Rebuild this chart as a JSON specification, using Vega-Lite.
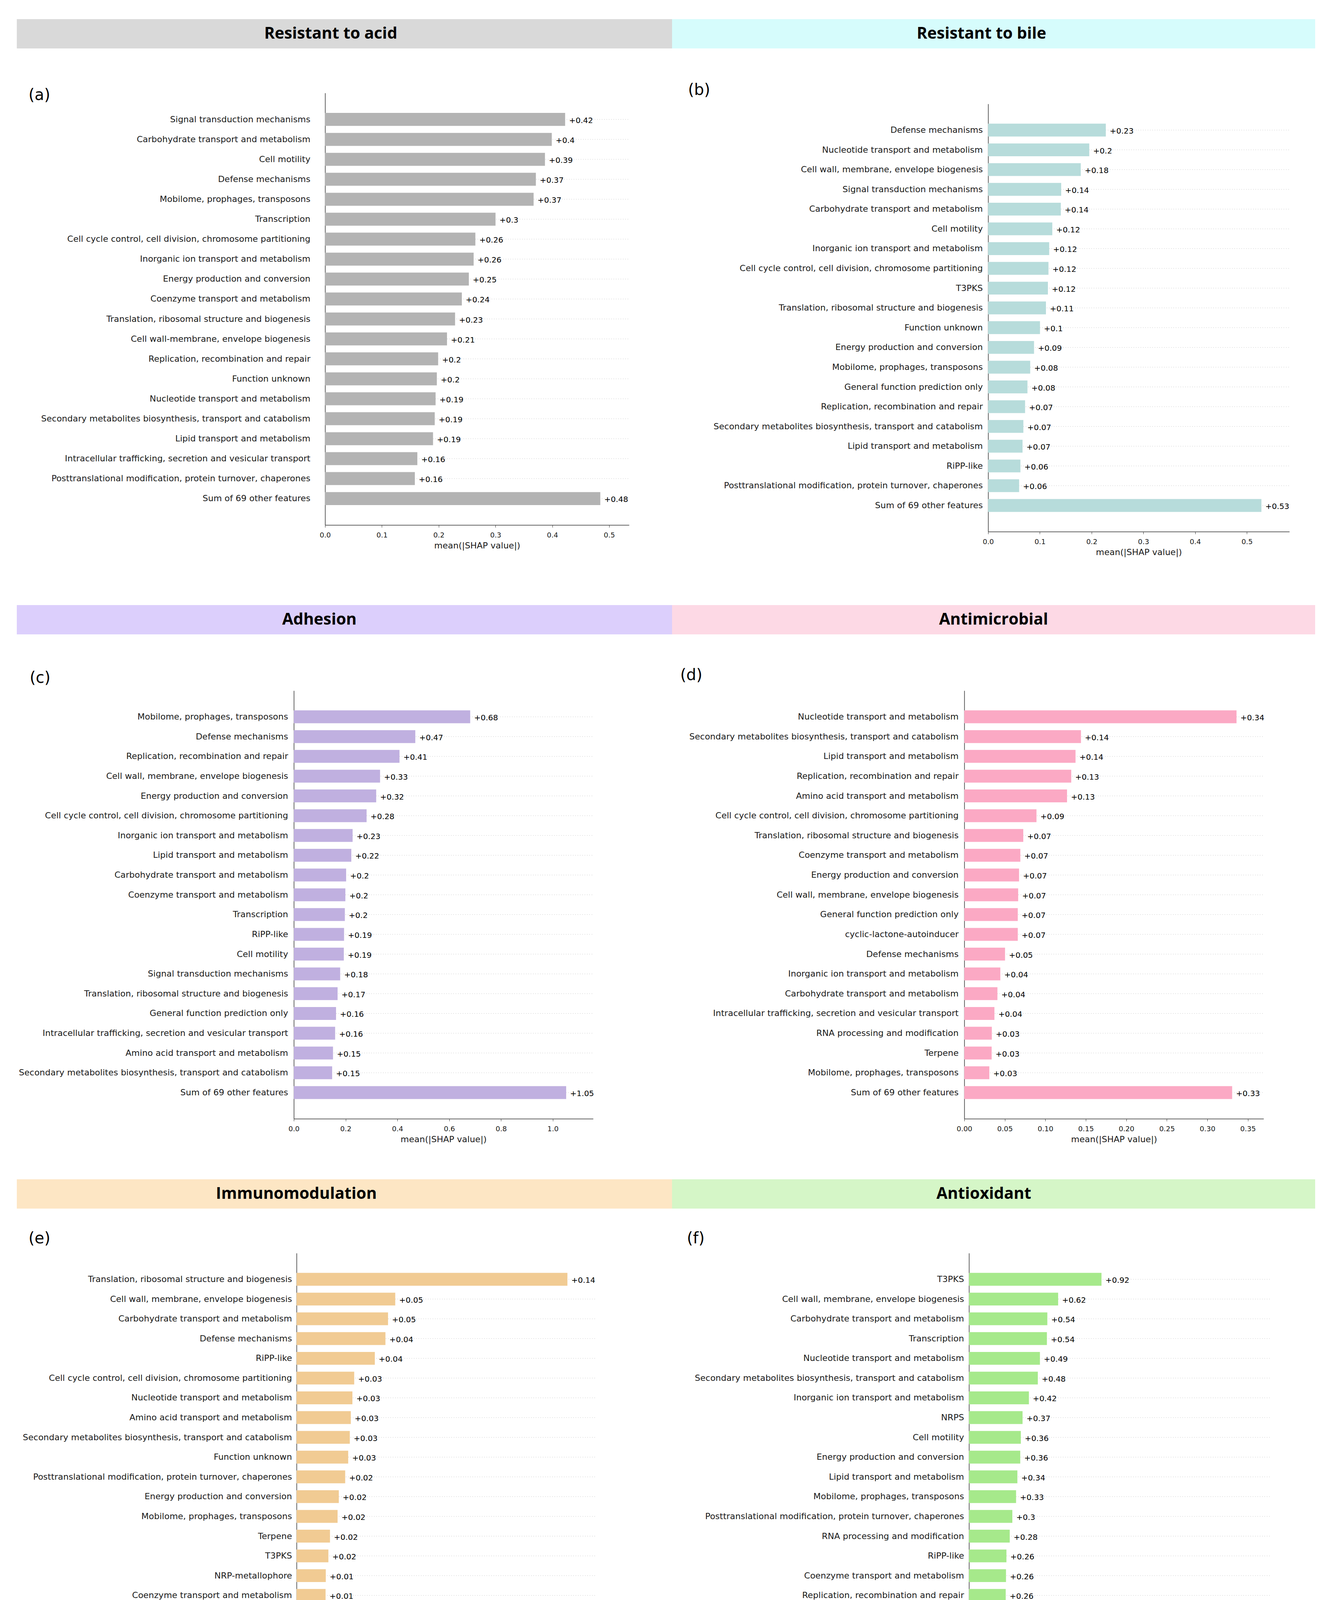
{
  "$schema": "https://vega.github.io/schema/vega-lite/v6.json",
  "background": "white",
  "padding": {"left": 43, "top": 49, "right": 0, "bottom": 0},
  "config": {
    "font": "DejaVu Sans",
    "view": {"stroke": null},
    "title": {"font": "DejaVu Sans", "fontSize": 40, "fontWeight": "normal", "color": "#000000"},
    "axis": {"labelFont": "DejaVu Sans", "titleFont": "DejaVu Sans", "labelColor": "#1a1a1a", "titleColor": "#1a1a1a", "domainColor": "#333333", "tickColor": "#333333", "domainWidth": 1.5, "titleFontWeight": "normal"},
    "axisY": {"ticks": false, "labelFontSize": 22, "labelLimit": 0, "grid": false, "bandPosition": 0.5},
    "axisX": {"grid": false, "labelFontSize": 18, "titleFontSize": 22, "tickSize": 6, "labelPadding": 11, "titlePadding": 7, "labelFlush": false},
    "text": {"font": "DejaVu Sans", "color": "#000000"},
    "rule": {"color": "#c8c8c8", "strokeDash": [2, 4], "strokeWidth": 1}
  },
  "datasets": {
    "a": [
      {"f": "Signal transduction mechanisms", "v": 0.4225, "t": "+0.42"},
      {"f": "Carbohydrate transport and metabolism", "v": 0.399, "t": "+0.4"},
      {"f": "Cell motility", "v": 0.387, "t": "+0.39"},
      {"f": "Defense mechanisms", "v": 0.371, "t": "+0.37"},
      {"f": "Mobilome, prophages, transposons", "v": 0.367, "t": "+0.37"},
      {"f": "Transcription", "v": 0.3, "t": "+0.3"},
      {"f": "Cell cycle control, cell division, chromosome partitioning", "v": 0.2645, "t": "+0.26"},
      {"f": "Inorganic ion transport and metabolism", "v": 0.2615, "t": "+0.26"},
      {"f": "Energy production and conversion", "v": 0.253, "t": "+0.25"},
      {"f": "Coenzyme transport and metabolism", "v": 0.2407, "t": "+0.24"},
      {"f": "Translation, ribosomal structure and biogenesis", "v": 0.2288, "t": "+0.23"},
      {"f": "Cell wall-membrane, envelope biogenesis", "v": 0.2146, "t": "+0.21"},
      {"f": "Replication, recombination and repair", "v": 0.199, "t": "+0.2"},
      {"f": "Function unknown", "v": 0.1967, "t": "+0.2"},
      {"f": "Nucleotide transport and metabolism", "v": 0.1945, "t": "+0.19"},
      {"f": "Secondary metabolites biosynthesis, transport and catabolism", "v": 0.193, "t": "+0.19"},
      {"f": "Lipid transport and metabolism", "v": 0.19, "t": "+0.19"},
      {"f": "Intracellular trafficking, secretion and vesicular transport", "v": 0.1624, "t": "+0.16"},
      {"f": "Posttranslational modification, protein turnover, chaperones", "v": 0.158, "t": "+0.16"},
      {"f": "Sum of 69 other features", "v": 0.4844, "t": "+0.48"}
    ],
    "b": [
      {"f": "Defense mechanisms", "v": 0.2274, "t": "+0.23"},
      {"f": "Nucleotide transport and metabolism", "v": 0.1954, "t": "+0.2"},
      {"f": "Cell wall, membrane, envelope biogenesis", "v": 0.179, "t": "+0.18"},
      {"f": "Signal transduction mechanisms", "v": 0.1412, "t": "+0.14"},
      {"f": "Carbohydrate transport and metabolism", "v": 0.1404, "t": "+0.14"},
      {"f": "Cell motility", "v": 0.124, "t": "+0.12"},
      {"f": "Inorganic ion transport and metabolism", "v": 0.118, "t": "+0.12"},
      {"f": "Cell cycle control, cell division, chromosome partitioning", "v": 0.1166, "t": "+0.12"},
      {"f": "T3PKS", "v": 0.1155, "t": "+0.12"},
      {"f": "Translation, ribosomal structure and biogenesis", "v": 0.1117, "t": "+0.11"},
      {"f": "Function unknown", "v": 0.1002, "t": "+0.1"},
      {"f": "Energy production and conversion", "v": 0.0887, "t": "+0.09"},
      {"f": "Mobilome, prophages, transposons", "v": 0.0813, "t": "+0.08"},
      {"f": "General function prediction only", "v": 0.076, "t": "+0.08"},
      {"f": "Replication, recombination and repair", "v": 0.0714, "t": "+0.07"},
      {"f": "Secondary metabolites biosynthesis, transport and catabolism", "v": 0.0681, "t": "+0.07"},
      {"f": "Lipid transport and metabolism", "v": 0.0665, "t": "+0.07"},
      {"f": "RiPP-like", "v": 0.0624, "t": "+0.06"},
      {"f": "Posttranslational modification, protein turnover, chaperones", "v": 0.0599, "t": "+0.06"},
      {"f": "Sum of 69 other features", "v": 0.528, "t": "+0.53"}
    ],
    "c": [
      {"f": "Mobilome, prophages, transposons", "v": 0.681, "t": "+0.68"},
      {"f": "Defense mechanisms", "v": 0.469, "t": "+0.47"},
      {"f": "Replication, recombination and repair", "v": 0.408, "t": "+0.41"},
      {"f": "Cell wall, membrane, envelope biogenesis", "v": 0.333, "t": "+0.33"},
      {"f": "Energy production and conversion", "v": 0.318, "t": "+0.32"},
      {"f": "Cell cycle control, cell division, chromosome partitioning", "v": 0.281, "t": "+0.28"},
      {"f": "Inorganic ion transport and metabolism", "v": 0.227, "t": "+0.23"},
      {"f": "Lipid transport and metabolism", "v": 0.222, "t": "+0.22"},
      {"f": "Carbohydrate transport and metabolism", "v": 0.202, "t": "+0.2"},
      {"f": "Coenzyme transport and metabolism", "v": 0.199, "t": "+0.2"},
      {"f": "Transcription", "v": 0.197, "t": "+0.2"},
      {"f": "RiPP-like", "v": 0.194, "t": "+0.19"},
      {"f": "Cell motility", "v": 0.193, "t": "+0.19"},
      {"f": "Signal transduction mechanisms", "v": 0.179, "t": "+0.18"},
      {"f": "Translation, ribosomal structure and biogenesis", "v": 0.169, "t": "+0.17"},
      {"f": "General function prediction only", "v": 0.163, "t": "+0.16"},
      {"f": "Intracellular trafficking, secretion and vesicular transport", "v": 0.1595, "t": "+0.16"},
      {"f": "Amino acid transport and metabolism", "v": 0.1513, "t": "+0.15"},
      {"f": "Secondary metabolites biosynthesis, transport and catabolism", "v": 0.148, "t": "+0.15"},
      {"f": "Sum of 69 other features", "v": 1.0515, "t": "+1.05"}
    ],
    "d": [
      {"f": "Nucleotide transport and metabolism", "v": 0.336, "t": "+0.34"},
      {"f": "Secondary metabolites biosynthesis, transport and catabolism", "v": 0.144, "t": "+0.14"},
      {"f": "Lipid transport and metabolism", "v": 0.1373, "t": "+0.14"},
      {"f": "Replication, recombination and repair", "v": 0.132, "t": "+0.13"},
      {"f": "Amino acid transport and metabolism", "v": 0.1268, "t": "+0.13"},
      {"f": "Cell cycle control, cell division, chromosome partitioning", "v": 0.0891, "t": "+0.09"},
      {"f": "Translation, ribosomal structure and biogenesis", "v": 0.0728, "t": "+0.07"},
      {"f": "Coenzyme transport and metabolism", "v": 0.0692, "t": "+0.07"},
      {"f": "Energy production and conversion", "v": 0.0676, "t": "+0.07"},
      {"f": "Cell wall, membrane, envelope biogenesis", "v": 0.0665, "t": "+0.07"},
      {"f": "General function prediction only", "v": 0.066, "t": "+0.07"},
      {"f": "cyclic-lactone-autoinducer", "v": 0.066, "t": "+0.07"},
      {"f": "Defense mechanisms", "v": 0.0503, "t": "+0.05"},
      {"f": "Inorganic ion transport and metabolism", "v": 0.0445, "t": "+0.04"},
      {"f": "Carbohydrate transport and metabolism", "v": 0.0409, "t": "+0.04"},
      {"f": "Intracellular trafficking, secretion and vesicular transport", "v": 0.0372, "t": "+0.04"},
      {"f": "RNA processing and modification", "v": 0.034, "t": "+0.03"},
      {"f": "Terpene", "v": 0.0338, "t": "+0.03"},
      {"f": "Mobilome, prophages, transposons", "v": 0.0309, "t": "+0.03"},
      {"f": "Sum of 69 other features", "v": 0.3306, "t": "+0.33"}
    ],
    "e": [
      {"f": "Translation, ribosomal structure and biogenesis", "v": 0.1353, "t": "+0.14"},
      {"f": "Cell wall, membrane, envelope biogenesis", "v": 0.0493, "t": "+0.05"},
      {"f": "Carbohydrate transport and metabolism", "v": 0.0457, "t": "+0.05"},
      {"f": "Defense mechanisms", "v": 0.0444, "t": "+0.04"},
      {"f": "RiPP-like", "v": 0.0391, "t": "+0.04"},
      {"f": "Cell cycle control, cell division, chromosome partitioning", "v": 0.0288, "t": "+0.03"},
      {"f": "Nucleotide transport and metabolism", "v": 0.0279, "t": "+0.03"},
      {"f": "Amino acid transport and metabolism", "v": 0.0271, "t": "+0.03"},
      {"f": "Secondary metabolites biosynthesis, transport and catabolism", "v": 0.0266, "t": "+0.03"},
      {"f": "Function unknown", "v": 0.0258, "t": "+0.03"},
      {"f": "Posttranslational modification, protein turnover, chaperones", "v": 0.0243, "t": "+0.02"},
      {"f": "Energy production and conversion", "v": 0.0211, "t": "+0.02"},
      {"f": "Mobilome, prophages, transposons", "v": 0.0205, "t": "+0.02"},
      {"f": "Terpene", "v": 0.0167, "t": "+0.02"},
      {"f": "T3PKS", "v": 0.0159, "t": "+0.02"},
      {"f": "NRP-metallophore", "v": 0.0146, "t": "+0.01"},
      {"f": "Coenzyme transport and metabolism", "v": 0.0145, "t": "+0.01"},
      {"f": "Signal transduction mechanisms", "v": 0.0144, "t": "+0.01"},
      {"f": "NRPS-like", "v": 0.0114, "t": "+0.01"},
      {"f": "Sum of 69 other features", "v": 0.1121, "t": "+0.11"}
    ],
    "f": [
      {"f": "T3PKS", "v": 0.92, "t": "+0.92"},
      {"f": "Cell wall, membrane, envelope biogenesis", "v": 0.619, "t": "+0.62"},
      {"f": "Carbohydrate transport and metabolism", "v": 0.544, "t": "+0.54"},
      {"f": "Transcription", "v": 0.541, "t": "+0.54"},
      {"f": "Nucleotide transport and metabolism", "v": 0.4926, "t": "+0.49"},
      {"f": "Secondary metabolites biosynthesis, transport and catabolism", "v": 0.478, "t": "+0.48"},
      {"f": "Inorganic ion transport and metabolism", "v": 0.416, "t": "+0.42"},
      {"f": "NRPS", "v": 0.372, "t": "+0.37"},
      {"f": "Cell motility", "v": 0.36, "t": "+0.36"},
      {"f": "Energy production and conversion", "v": 0.356, "t": "+0.36"},
      {"f": "Lipid transport and metabolism", "v": 0.336, "t": "+0.34"},
      {"f": "Mobilome, prophages, transposons", "v": 0.327, "t": "+0.33"},
      {"f": "Posttranslational modification, protein turnover, chaperones", "v": 0.301, "t": "+0.3"},
      {"f": "RNA processing and modification", "v": 0.283, "t": "+0.28"},
      {"f": "RiPP-like", "v": 0.26, "t": "+0.26"},
      {"f": "Coenzyme transport and metabolism", "v": 0.257, "t": "+0.26"},
      {"f": "Replication, recombination and repair", "v": 0.255, "t": "+0.26"},
      {"f": "General function prediction only", "v": 0.242, "t": "+0.24"},
      {"f": "Signal transduction mechanisms", "v": 0.221, "t": "+0.22"},
      {"f": "Sum of 69 other features", "v": 1.893, "t": "+1.89"}
    ],
    "g": [
      {"f": "Lipid transport and metabolism", "v": 1.1415, "t": "+1.14"},
      {"f": "Cell wall, membrane, envelope biogenesis", "v": 0.679, "t": "+0.68"},
      {"f": "Posttranslational modification, protein turnover, chaperones", "v": 0.53, "t": "+0.53"},
      {"f": "Translation, ribosomal structure and biogenesis", "v": 0.527, "t": "+0.53"},
      {"f": "Transcription", "v": 0.526, "t": "+0.53"},
      {"f": "Inorganic ion transport and metabolism", "v": 0.491, "t": "+0.49"},
      {"f": "Mobilome, prophages, transposons", "v": 0.4467, "t": "+0.45"},
      {"f": "Coenzyme transport and metabolism", "v": 0.443, "t": "+0.44"},
      {"f": "Cell cycle control, cell division, chromosome partitioning", "v": 0.434, "t": "+0.43"},
      {"f": "Defense mechanisms", "v": 0.372, "t": "+0.37"},
      {"f": "Energy production and conversion", "v": 0.36, "t": "+0.36"},
      {"f": "Nucleotide transport and metabolism", "v": 0.3545, "t": "+0.35"},
      {"f": "Replication, recombination and repair", "v": 0.34, "t": "+0.34"},
      {"f": "Carbohydrate transport and metabolism", "v": 0.337, "t": "+0.34"},
      {"f": "Cell motility", "v": 0.3155, "t": "+0.32"},
      {"f": "Intracellular trafficking, secretion and vesicular transport", "v": 0.287, "t": "+0.29"},
      {"f": "Signal transduction mechanisms", "v": 0.276, "t": "+0.28"},
      {"f": "Amino acid transport and metabolism", "v": 0.2606, "t": "+0.26"},
      {"f": "General function prediction only", "v": 0.2127, "t": "+0.21"},
      {"f": "Sum of 69 other features", "v": 0.7976, "t": "+0.8"}
    ]
  },
  "spacing": 87,
  "vconcat": [
    {
      "spacing": 0,
      "hconcat": [
        {
          "width": 1677, "height": 75,
          "view": {"fill": "#d9d9d9", "stroke": null},
          "data": {"values": [{"name": "Resistant to acid"}]},
          "mark": {"type": "text", "font": "Open Sans", "fontWeight": "bold", "fontSize": 41, "baseline": "middle", "dx": -35},
          "encoding": {"text": {"field": "name"}}
        },
        {
          "width": 1646, "height": 75,
          "view": {"fill": "#d6fcfc", "stroke": null},
          "data": {"values": [{"name": "Resistant to bile"}]},
          "mark": {"type": "text", "font": "Open Sans", "fontWeight": "bold", "fontSize": 41, "baseline": "middle", "dx": -31},
          "encoding": {"text": {"field": "name"}}
        }
      ]
    },
    {
      "spacing": 125,
      "vconcat": [
        {
          "spacing": 110,
          "hconcat": [
            {
              "width": 1567, "height": 1106,
              "data": {"name": "a"},
              "title": {"text": "(a)", "anchor": "start", "frame": "group", "dx": 30, "offset": -26},
              "encoding": {
                "y": {"field": "f", "type": "nominal", "sort": null, "title": null, "scale": {"paddingInner": 0.35, "paddingOuter": 1}, "axis": {"offset": -789, "labelPadding": 38}},
                "x": {"field": "v", "type": "quantitative", "title": "mean(|SHAP value|)", "scale": {"domain": [0, 0.535], "nice": false, "range": [789, 1567]}, "axis": {"values": [0, 0.1, 0.2, 0.3, 0.4, 0.5], "format": ".1f"}}
              },
              "layer": [
                {"mark": "rule", "encoding": {"x": {"datum": 0}, "x2": {"datum": 0.535}}},
                {"mark": {"type": "bar", "color": "#b3b3b3"}},
                {"mark": {"type": "text", "align": "left", "baseline": "middle", "dx": 10, "dy": 3, "fontSize": 20}, "encoding": {"text": {"field": "t"}}}
              ]
            },
            {
              "width": 1579, "height": 1123,
              "data": {"name": "b"},
              "title": {"text": "(b)", "anchor": "start", "frame": "group", "dx": 40, "offset": -13},
              "encoding": {
                "y": {"field": "f", "type": "nominal", "sort": null, "title": null, "scale": {"paddingInner": 0.35, "paddingOuter": 1, "range": [28, 1123]}, "axis": {"offset": -808, "labelPadding": 14}},
                "x": {"field": "v", "type": "quantitative", "title": "mean(|SHAP value|)", "scale": {"domain": [0, 0.582], "nice": false, "range": [808, 1579]}, "axis": {"values": [0, 0.1, 0.2, 0.3, 0.4, 0.5], "format": ".1f"}}
              },
              "layer": [
                {"mark": "rule", "encoding": {"x": {"datum": 0}, "x2": {"datum": 0.582}}},
                {"mark": {"type": "bar", "color": "#b7dcdb"}},
                {"mark": {"type": "text", "align": "left", "baseline": "middle", "dx": 10, "dy": 3, "fontSize": 20}, "encoding": {"text": {"field": "t"}}}
              ]
            }
          ]
        },
        {
          "spacing": 85,
          "vconcat": [
            {
              "spacing": 0,
              "hconcat": [
                {
                  "width": 1677, "height": 75,
                  "view": {"fill": "#dccffc", "stroke": null},
                  "data": {"values": [{"name": "Adhesion"}]},
                  "mark": {"type": "text", "font": "Open Sans", "fontWeight": "bold", "fontSize": 41, "baseline": "middle", "dx": -64},
                  "encoding": {"text": {"field": "name"}}
                },
                {
                  "width": 1646, "height": 75,
                  "view": {"fill": "#fdd9e5", "stroke": null},
                  "data": {"values": [{"name": "Antimicrobial"}]},
                  "mark": {"type": "text", "font": "Open Sans", "fontWeight": "bold", "fontSize": 41, "baseline": "middle", "dx": 0},
                  "encoding": {"text": {"field": "name"}}
                }
              ]
            },
            {
              "spacing": 92,
              "vconcat": [
                {
                  "spacing": 202,
                  "hconcat": [
                    {
                      "width": 1475, "height": 1096,
                      "data": {"name": "c"},
                      "title": {"text": "(c)", "anchor": "start", "frame": "group", "dx": 33, "offset": 12},
                      "encoding": {
                        "y": {"field": "f", "type": "nominal", "sort": null, "title": null, "scale": {"paddingInner": 0.35, "paddingOuter": 1}, "axis": {"offset": -709, "labelPadding": 15}},
                        "x": {"field": "v", "type": "quantitative", "title": "mean(|SHAP value|)", "scale": {"domain": [0, 1.1555], "nice": false, "range": [709, 1475]}, "axis": {"values": [0, 0.2, 0.4, 0.6, 0.8, 1.0], "format": ".1f"}}
                      },
                      "layer": [
                        {"mark": "rule", "encoding": {"x": {"datum": 0}, "x2": {"datum": 1.1555}}},
                        {"mark": {"type": "bar", "color": "#c0b0e0"}},
                        {"mark": {"type": "text", "align": "left", "baseline": "middle", "dx": 10, "dy": 3, "fontSize": 20}, "encoding": {"text": {"field": "t"}}}
                      ]
                    },
                    {
                      "width": 1511, "height": 1096,
                      "data": {"name": "d"},
                      "title": {"text": "(d)", "anchor": "start", "frame": "group", "dx": 18, "offset": 19},
                      "encoding": {
                        "y": {"field": "f", "type": "nominal", "sort": null, "title": null, "scale": {"paddingInner": 0.35, "paddingOuter": 1}, "axis": {"offset": -745, "labelPadding": 15}},
                        "x": {"field": "v", "type": "quantitative", "title": "mean(|SHAP value|)", "scale": {"domain": [0, 0.3694], "nice": false, "range": [745, 1511]}, "axis": {"values": [0, 0.05, 0.1, 0.15, 0.2, 0.25, 0.3, 0.35], "format": ".2f"}}
                      },
                      "layer": [
                        {"mark": "rule", "encoding": {"x": {"datum": 0}, "x2": {"datum": 0.3694}}},
                        {"mark": {"type": "bar", "color": "#fba9c4"}},
                        {"mark": {"type": "text", "align": "left", "baseline": "middle", "dx": 10, "dy": 3, "fontSize": 20}, "encoding": {"text": {"field": "t"}}}
                      ]
                    }
                  ]
                },
                {
                  "spacing": 57,
                  "vconcat": [
                    {
                      "spacing": 0,
                      "hconcat": [
                        {
                          "width": 1677, "height": 75,
                          "view": {"fill": "#fde6c4", "stroke": null},
                          "data": {"values": [{"name": "Immunomodulation"}]},
                          "mark": {"type": "text", "font": "Open Sans", "fontWeight": "bold", "fontSize": 41, "baseline": "middle", "dx": -123},
                          "encoding": {"text": {"field": "name"}}
                        },
                        {
                          "width": 1646, "height": 75,
                          "view": {"fill": "#d5f6c7", "stroke": null},
                          "data": {"values": [{"name": "Antioxidant"}]},
                          "mark": {"type": "text", "font": "Open Sans", "fontWeight": "bold", "fontSize": 41, "baseline": "middle", "dx": -25},
                          "encoding": {"text": {"field": "name"}}
                        }
                      ]
                    },
                    {
                      "spacing": 99,
                      "vconcat": [
                        {
                          "spacing": 195,
                          "hconcat": [
                            {
                              "width": 1482, "height": 1095,
                              "data": {"name": "e"},
                              "title": {"text": "(e)", "anchor": "start", "frame": "group", "dx": 30, "offset": 17},
                              "encoding": {
                                "y": {"field": "f", "type": "nominal", "sort": null, "title": null, "scale": {"paddingInner": 0.35, "paddingOuter": 1}, "axis": {"offset": -716, "labelPadding": 12}},
                                "x": {"field": "v", "type": "quantitative", "title": "mean(|SHAP value|)", "scale": {"domain": [0, 0.1495], "nice": false, "range": [716, 1482]}, "axis": {"values": [0, 0.02, 0.04, 0.06, 0.08, 0.1, 0.12, 0.14], "format": ".2f"}}
                              },
                              "layer": [
                                {"mark": "rule", "encoding": {"x": {"datum": 0}, "x2": {"datum": 0.1495}}},
                                {"mark": {"type": "bar", "color": "#f1cb93"}},
                                {"mark": {"type": "text", "align": "left", "baseline": "middle", "dx": 10, "dy": 3, "fontSize": 20}, "encoding": {"text": {"field": "t"}}}
                              ]
                            },
                            {
                              "width": 1531, "height": 1095,
                              "data": {"name": "f"},
                              "title": {"text": "(f)", "anchor": "start", "frame": "group", "dx": 37, "offset": 17},
                              "encoding": {
                                "y": {"field": "f", "type": "nominal", "sort": null, "title": null, "scale": {"paddingInner": 0.35, "paddingOuter": 1}, "axis": {"offset": -759, "labelPadding": 13}},
                                "x": {"field": "v", "type": "quantitative", "title": "mean(|SHAP value|)", "scale": {"domain": [0, 2.094], "nice": false, "range": [759, 1531]}, "axis": {"values": [0, 0.25, 0.5, 0.75, 1.0, 1.25, 1.5, 1.75, 2.0], "format": ".2f"}}
                              },
                              "layer": [
                                {"mark": "rule", "encoding": {"x": {"datum": 0}, "x2": {"datum": 2.094}}},
                                {"mark": {"type": "bar", "color": "#a6e98b"}},
                                {"mark": {"type": "text", "align": "left", "baseline": "middle", "dx": 10, "dy": 3, "fontSize": 20}, "encoding": {"text": {"field": "t"}}}
                              ]
                            }
                          ]
                        },
                        {
                          "spacing": 54,
                          "vconcat": [
                            {
                              "width": 1677, "height": 75,
                              "view": {"fill": "#fdc9a7", "stroke": null},
                              "data": {"values": [{"name": "Antiproliferative"}]},
                              "mark": {"type": "text", "font": "Open Sans", "fontWeight": "bold", "fontSize": 41, "baseline": "middle", "dx": -138},
                              "encoding": {"text": {"field": "name"}}
                            },
                            {
                              "width": 1495, "height": 1097,
                              "data": {"name": "g"},
                              "title": {"text": "(g)", "anchor": "start", "frame": "group", "dx": 33, "offset": 91},
                              "encoding": {
                                "y": {"field": "f", "type": "nominal", "sort": null, "title": null, "scale": {"paddingInner": 0.35, "paddingOuter": 1}, "axis": {"offset": -724, "labelPadding": 16}},
                                "x": {"field": "v", "type": "quantitative", "title": "mean(|SHAP value|)", "scale": {"domain": [0, 1.262], "nice": false, "range": [724, 1495]}, "axis": {"values": [0, 0.2, 0.4, 0.6, 0.8, 1.0, 1.2], "format": ".1f"}}
                              },
                              "layer": [
                                {"mark": "rule", "encoding": {"x": {"datum": 0}, "x2": {"datum": 1.262}}},
                                {"mark": {"type": "bar", "color": "#e5a276"}},
                                {"mark": {"type": "text", "align": "left", "baseline": "middle", "dx": 10, "dy": 3, "fontSize": 20}, "encoding": {"text": {"field": "t"}}}
                              ]
                            }
                          ]
                        }
                      ]
                    }
                  ]
                }
              ]
            }
          ]
        }
      ]
    }
  ]
}
